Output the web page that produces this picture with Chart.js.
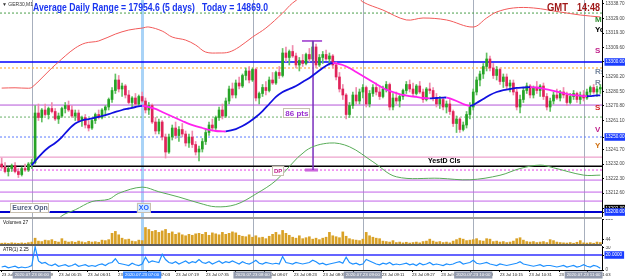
<!DOCTYPE html>
<html>
<head>
<meta charset="utf-8">
<script src="https://cdn.jsdelivr.net/npm/chart.js@4.4.1/dist/chart.umd.min.js"></script>
<style>
  body { margin: 0; background: #fff; }
  #wrap { position: relative; width: 625px; height: 280px; overflow: hidden; }
  canvas { position: absolute; left: 0; }
  .sep { position: absolute; left: 0; width: 602px; }
</style>
</head>
<body>
<div id="wrap">
  <canvas id="priceChart" width="625" height="217" style="top:0"></canvas>
  <div class="sep" style="top:217px;height:2px;background:#9b9b9b"></div>
  <canvas id="volChart" width="625" height="25" style="top:219px"></canvas>
  <div class="sep" style="top:244px;height:2px;background:#5f5f5f"></div>
  <canvas id="atrChart" width="625" height="34" style="top:246px"></canvas>
</div>
<script>
// GER30 M1 candles, one entry per bar
const opens = [
  13232,13230,13227,13229,13231,13227,13225,13229,13228,13232,
  13233,13266,13263,13268,13265,13269,13267,13262,13264,13269,
  13271,13268,13264,13266,13261,13263,13258,13256,13261,13265,
  13263,13268,13270,13275,13281,13288,13282,13284,13278,13273,
  13276,13272,13277,13274,13268,13271,13260,13254,13260,13250,
  13240,13250,13256,13251,13255,13252,13246,13250,13245,13240,
  13242,13247,13253,13258,13256,13263,13268,13264,13274,13282,
  13278,13286,13284,13291,13294,13288,13295,13276,13279,13283,
  13281,13288,13286,13293,13291,13306,13303,13307,13304,13298,
  13301,13299,13305,13302,13310,13298,13303,13305,13302,13304,
  13298,13290,13282,13278,13265,13271,13278,13274,13280,13283,
  13272,13279,13283,13280,13277,13282,13285,13270,13276,13274,
  13277,13281,13285,13282,13279,13284,13280,13275,13282,13281,
  13276,13272,13275,13270,13272,13267,13259,13262,13255,13258,
  13265,13270,13280,13288,13292,13297,13302,13296,13291,13295,
  13287,13290,13284,13286,13280,13270,13275,13281,13284,13278,
  13283,13281,13284,13277,13270,13274,13278,13276,13280,13278,
  13273,13277,13279,13275,13278,13276,13280,13283,13280,13282
];
const highs = [
  13236,13233,13230,13232,13233,13229,13230,13232,13233,13235,
  13271,13272,13269,13272,13270,13273,13269,13266,13270,13273,
  13274,13271,13268,13268,13264,13265,13261,13262,13266,13268,
  13269,13271,13276,13283,13292,13291,13286,13285,13281,13277,
  13279,13278,13280,13276,13273,13272,13263,13262,13261,13252,
  13252,13258,13260,13257,13259,13254,13252,13254,13247,13244,
  13249,13255,13260,13262,13264,13270,13272,13276,13284,13286,
  13288,13290,13292,13296,13297,13296,13296,13280,13285,13287,
  13290,13293,13294,13297,13309,13310,13308,13311,13306,13303,
  13305,13306,13309,13314,13312,13305,13307,13308,13306,13305,
  13300,13293,13285,13279,13273,13280,13283,13282,13285,13284,
  13281,13285,13286,13284,13284,13287,13286,13279,13280,13278,
  13282,13287,13288,13286,13285,13287,13282,13283,13286,13283,
  13279,13277,13276,13274,13275,13268,13264,13263,13260,13267,
  13273,13282,13290,13294,13299,13306,13304,13299,13297,13296,
  13292,13292,13288,13288,13282,13278,13283,13286,13285,13284,
  13287,13285,13286,13279,13276,13280,13282,13281,13283,13280,
  13279,13281,13280,13280,13281,13282,13284,13285,13284,13285
];
const lows = [
  13229,13226,13224,13227,13226,13223,13224,13227,13227,13229,
  13232,13261,13260,13264,13262,13266,13261,13259,13263,13266,
  13267,13263,13261,13260,13257,13256,13254,13255,13259,13262,
  13262,13265,13268,13273,13279,13280,13277,13276,13272,13270,
  13271,13271,13273,13266,13265,13259,13252,13252,13248,13236,
  13239,13248,13249,13247,13250,13244,13243,13243,13238,13234,
  13240,13245,13251,13254,13255,13261,13262,13263,13272,13276,
  13276,13282,13283,13288,13286,13287,13274,13272,13277,13278,
  13280,13285,13285,13289,13290,13300,13298,13303,13296,13294,
  13297,13298,13300,13300,13296,13297,13299,13301,13298,13296,
  13288,13280,13275,13262,13263,13269,13272,13272,13276,13270,
  13270,13277,13278,13275,13276,13280,13268,13268,13272,13270,
  13275,13279,13280,13277,13278,13279,13273,13274,13279,13274,
  13270,13269,13268,13266,13265,13257,13253,13253,13254,13256,
  13262,13268,13278,13284,13289,13294,13294,13289,13288,13285,
  13283,13282,13280,13278,13268,13266,13273,13279,13276,13276,
  13279,13277,13275,13268,13267,13272,13275,13274,13276,13271,
  13272,13275,13273,13272,13274,13275,13278,13279,13277,13279
];
const closes = [
  13230,13227,13229,13231,13227,13225,13229,13228,13232,13233,
  13266,13263,13268,13265,13269,13267,13262,13264,13269,13271,
  13268,13264,13266,13261,13263,13258,13256,13261,13265,13263,
  13268,13270,13275,13281,13288,13282,13284,13278,13273,13276,
  13272,13277,13274,13268,13271,13260,13254,13260,13250,13240,
  13250,13256,13251,13255,13252,13246,13250,13245,13240,13242,
  13247,13253,13258,13256,13263,13268,13264,13274,13282,13278,
  13286,13284,13291,13294,13288,13295,13276,13279,13283,13281,
  13288,13286,13293,13291,13306,13303,13307,13304,13298,13301,
  13299,13305,13302,13310,13298,13303,13305,13302,13304,13298,
  13290,13282,13278,13265,13271,13278,13274,13280,13283,13272,
  13279,13283,13280,13277,13282,13285,13270,13276,13274,13277,
  13281,13285,13282,13279,13284,13280,13275,13282,13281,13276,
  13272,13275,13270,13272,13267,13259,13262,13255,13258,13265,
  13270,13280,13288,13292,13297,13302,13296,13291,13295,13287,
  13290,13284,13286,13280,13270,13275,13281,13284,13278,13283,
  13281,13284,13277,13270,13274,13278,13276,13280,13278,13273,
  13277,13279,13275,13278,13276,13280,13283,13280,13282,13283
];

// moving average (blue when rising, magenta when falling)
const maIdx = [9,10,12,14,16,18,20,22,24,26, 28,30,32,34,36,38,40,42,44,46,
  48,50,52,54,56,58,60,62,64,66, 67,70,72,74,76,78,80,82,84,86,
  88,90,92,94,96,98,99,100,102,104, 106,108,110,112,114,116,118,120,122,124,
  126,128,130,132,133,134,136,138,140,141, 142,144,146,148,150,152,154,156,158,160,
  162,164,166,168,170,172,174,175,176,177, 178,179];
const maVal = [13231,13234,13239,13243,13246,13250,13255,13259,13261,13262,
  13263,13264,13265.3,13266.7,13268,13269,13270,13270.7,13270,13268.7,
  13266.7,13264.7,13262.7,13260.7,13258.7,13257.3,13256,13254.7,13254,13253.8,
  13253.7,13255.3,13257.3,13260,13263.3,13267.3,13272,13276.7,13280,13282,
  13284,13286.7,13289.3,13292.7,13296,13298.7,13299.3,13299,13298,13296,
  13293.3,13290.7,13288,13285.3,13282.7,13280.7,13279.3,13278,13277.3,13276.7,
  13276,13275.7,13276,13276.3,13276.3,13275.7,13274,13272,13270.7,13271.3,
  13272.7,13275.3,13278,13280,13281.3,13282,13282.7,13283,13283.3,13283,
  13282.3,13281.3,13280.3,13279.3,13278.3,13277.7,13277.3,13277.2,13277.3,13277.5,
  13277.7,13277.8];

// upper red band
const redIdx = [0,4,8,9,12,15,17,19,22,25, 29,34,38,42,44,48,51,55,58,61,
  65,68,71,75,79,84,87,92,97,102, 106,108,114,121,126,133,141,145,148,153,
  159,167,173,179];
const redVal = [13282.6,13282.8,13282.5,13283,13289.3,13296,13300,13304,13309.3,13312.6,
  13314,13318.6,13321.3,13322.6,13323.3,13320.6,13316.6,13314.6,13311.3,13306.6,
  13306,13306.6,13310,13316.6,13322.6,13332.6,13339.3,13346.6,13350.6,13349.3,
  13344.6,13340,13334.6,13328,13329.3,13328,13323.3,13329.3,13333.3,13336,
  13336,13333.3,13331.3,13330];

// lower green band
const greenIdx = [15,18,22,27,32,35,42,47,53,59, 64,70,76,82,91,98,104,111,118,131,
  140,149,155,161,165,174,179];
const greenVal = [13190,13197.5,13201.5,13207,13208.5,13212.5,13216.6,13213.5,13210,13206,
  13203.5,13205,13212,13221,13241,13246,13243.5,13233.5,13223.5,13222.5,
  13221.5,13224.5,13229,13231.3,13229.5,13224.6,13224.6];

// horizontal levels drawn on the price panel
const levelPrices = [13332.6, 13300, 13296, 13271.3, 13263.3, 13250, 13236.6,
  13230.6, 13228, 13221.3, 13213.3, 13207.3, 13200];

const volumes = [
  8,10,6,12,9,7,11,8,14,20, 60,30,25,40,35,45,28,20,55,30,
  20,25,18,30,22,15,28,20,24,18, 40,35,45,110,130,95,60,45,50,30,
  25,40,35,170,150,130,140,120,135,150, 110,125,100,115,95,85,100,90,105,110,
  100,120,90,115,105,95,120,100,110,125, 115,90,80,75,95,70,85,65,70,55,
  80,100,120,95,140,110,90,70,60,85, 55,65,75,50,60,45,60,70,120,85,
  75,65,125,80,55,45,40,35,50,120, 85,70,60,55,30,25,20,35,15,20,
  12,18,10,15,20,12,25,30,50,30, 20,25,15,20,12,30,45,60,50,35,
  40,45,55,35,30,55,50,25,30,20, 25,15,20,30,55,65,40,25,20,25,
  15,20,25,15,45,35,20,15,12,10, 15,8,18,35,12,10,14,8,20,15
];

const atrValues = [
  4,5,3,4,5,3,4,3,4,6, 31,12,9,10,7,6,8,5,6,7,
  5,6,8,5,6,7,5,6,5,7, 8,6,9,10,15,9,8,7,6,9,
  7,6,8,17,10,12,11,10,21,14, 10,9,11,8,10,12,9,11,10,14,
  10,9,11,8,10,12,9,11,10,12, 10,8,11,9,8,10,13,9,8,10,
  9,8,9,8,18,10,9,8,10,9, 8,9,10,13,11,8,9,7,8,9,
  10,11,9,17,10,8,9,7,8,14, 12,10,8,7,9,8,10,7,8,7,
  8,9,7,8,6,9,7,8,10,7, 8,7,6,8,7,8,10,11,8,9,
  10,13,9,8,9,10,8,7,6,8, 7,6,7,8,9,11,8,7,6,5,
  6,7,5,6,6,5,4,5,6,4, 5,6,4,5,7,5,4,6,5,2.25
];

// axis labels
const priceTicks = [13338.7,13329.0,13319.3,13309.6,13300.0,13290.2,13280.5,13270.8,
  13261.1,13250.0,13241.7,13232.0,13222.3,13212.6,13202.3,13200.0];
const volTicks = [44, 258];
const atrTicks = [0, 20, 30];
const xTickPos = [0,8.5,17.1,25.8,34.8,43.5,52.1,61.1,69.8,78.7,87.4,96.1,105.1,113.7,122.7,131.4,140.1,149,157.7,166.7,175.3];
const xTickLabels = ['23 Jul 2020','23 Jul 05:59','23 Jul 06:15','23 Jul 06:31','23 Jul 06:47','23 Jul 07:03',
  '23 Jul 07:19','23 Jul 07:35','23 Jul 07:51','23 Jul 08:07','23 Jul 08:23','23 Jul 08:39','23 Jul 08:55',
  '23 Jul 09:11','23 Jul 09:27','23 Jul 09:43','23 Jul 09:59','23 Jul 10:15','23 Jul 10:31','23 Jul 10:47','23 Jul 11:03'];
const sessionIdx = [9, 42, 75, 108, 141, 174];
const sessionLabels = ['2020.07.23 06:00','2020.07.23 07:00','2020.07.23 08:00',
  '2020.07.23 09:00','2020.07.23 10:00','2020.07.23 11:00'];

// ---------- styling ----------
Chart.defaults.font.family = "'Liberation Sans', Arial, sans-serif";
const FONT = "'Liberation Sans', Arial, sans-serif";
const levelStyle = [
  {c:'#4a9f4a', w:1, d:[2,2]}, {c:'#0000ff', w:1.6, d:[]}, {c:'#ffb24a', w:1.2, d:[2,2]},
  {c:'#b455d8', w:1, d:[]}, {c:'#6ab06a', w:1, d:[2,2]}, {c:'#5b7bff', w:1, d:[2,2]},
  {c:'#e88bbf', w:1, d:[]}, {c:'#000000', w:1.5, d:[]}, {c:'#e43fe4', w:1, d:[2,2]},
  {c:'#c262e8', w:1, d:[]}, {c:'#c262e8', w:1, d:[]}, {c:'#c262e8', w:1, d:[]},
  {c:'#0000cd', w:2, d:[]}
];
const priceHighlight = {13300: '#1a3cff', 13250: '#1a3cff', 13200: '#1a3cff', 13202.3: '#000'};

const toPoints = (idx, vals) => idx.map((x, k) => ({x, y: vals[k]}));
const isUp = i => closes[i] >= opens[i];
const xAxis = {type: 'linear', min: -0.5, max: 179.5, offset: false, display: false};

function rightAxis(min, max, tickValues, fmt, highlight) {
  return {
    type: 'linear', position: 'right', min, max,
    afterBuildTicks: s => { s.ticks = tickValues.map(v => ({value: v})); },
    afterFit: s => { s.width = 23; s.paddingTop = 0; s.paddingBottom = 0; },
    border: {display: true, color: '#000', width: 1},
    grid: {drawOnChartArea: false, tickLength: 2, color: '#000'},
    ticks: {
      autoSkip: false, padding: 1.5, font: {size: 4.6},
      callback: fmt,
      color: c => highlight[c.tick.value] ? '#fff' : '#444',
      showLabelBackdrop: c => !!highlight[c.tick.value],
      backdropColor: c => highlight[c.tick.value] || 'rgba(0,0,0,0)',
      backdropPadding: {top: 1, bottom: 1, left: 1, right: 2}
    }
  };
}

function drawSessions(chart) {
  const {ctx, chartArea, scales: {x}} = chart;
  ctx.save();
  sessionIdx.forEach((i, k) => {
    const px = Math.round(x.getPixelForValue(i)) + 0.5;
    ctx.strokeStyle = k === 1 ? '#a9d3f7' : '#a7afbd';
    ctx.lineWidth = k === 1 ? 3 : 1;
    ctx.beginPath();
    ctx.moveTo(px, chartArea.top);
    ctx.lineTo(px, chartArea.bottom);
    ctx.stroke();
  });
  ctx.restore();
}

function fitText(ctx, text, x, y, w) {
  const m = ctx.measureText(text).width;
  ctx.save();
  ctx.translate(x, y);
  ctx.scale(w / m, 1);
  ctx.fillText(text, 0, 0);
  ctx.restore();
}

function boxLabel(ctx, text, x, y, font, color, fill, border) {
  ctx.font = font;
  const w = ctx.measureText(text).width;
  ctx.fillStyle = fill;
  ctx.fillRect(x - 2, y - 5, w + 4, 10);
  ctx.strokeStyle = border;
  ctx.lineWidth = 1;
  ctx.strokeRect(Math.round(x - 2) + 0.5, Math.round(y - 5) + 0.5, Math.round(w + 3), 9);
  ctx.fillStyle = color;
  ctx.textBaseline = 'middle';
  ctx.fillText(text, x, y + 0.5);
}

// text notes on the price panel: [text, bar index, price, color, font, boxed, fill]
const notes = [
  ['86 pts', 84.8, 13266, '#9b30d0', 'bold 8px ' + FONT, true, '#fff'],
  ['DP', 81.4, 13227.3, '#c0208a', 'bold 6px ' + FONT, true, '#fff'],
  ['YestD Cls', 127.5, 13234.3, '#000', 'bold 7px ' + FONT, false],
  ['Eurex Opn', 3.2, 13203, '#4f5d7e', 'bold 7px ' + FONT, true, '#fff'],
  ['XO', 41.0, 13203, '#1f5cff', 'bold 7px ' + FONT, true, '#d5ebff']
];
const sideTags = [['M',13328,'#2e8b2e'],['Yo',13321.3,'#000'],['S',13307.3,'#c0208a'],
  ['Rs',13293.3,'#7a8aa0'],['R',13286,'#7a8aa0'],['S',13269.3,'#d02020'],
  ['V',13254.7,'#c0208a'],['Y',13244,'#d07010']];

const priceDecor = {
  id: 'priceDecor',
  beforeDatasetsDraw: drawSessions,
  afterDatasetsDraw(chart) {
    const {ctx, chartArea, scales: {x, y}} = chart;
    ctx.save();
    ctx.textBaseline = 'alphabetic';
    ctx.fillStyle = '#1a35f0';
    ctx.font = 'bold 10px ' + FONT;
    fitText(ctx, 'Average Daily Range = 17954.6 (5 days)   Today = 14869.0', 33, 11, 235);
    ctx.fillStyle = '#a01818';
    fitText(ctx, 'GMT', 547, 11, 21);
    fitText(ctx, '14:48', 577, 11, 23);
    ctx.fillStyle = '#333';
    ctx.font = '5px ' + FONT;
    ctx.fillText('\u25BC GER30,M1', 2, 6);

    notes.forEach(n => {
      const px = x.getPixelForValue(n[1]), py = y.getPixelForValue(n[2]);
      if (n[5]) {
        boxLabel(ctx, n[0], px, py, n[4], n[3], n[6], '#c8c0b0');
      } else {
        ctx.font = n[4]; ctx.fillStyle = n[3]; ctx.textBaseline = 'middle';
        ctx.fillText(n[0], px, py);
      }
    });

    ctx.beginPath();
    ctx.rect(chartArea.left, chartArea.top, chartArea.right - chartArea.left, chartArea.bottom - chartArea.top);
    ctx.clip();
    ctx.font = 'bold 8px ' + FONT;
    ctx.textBaseline = 'middle';
    sideTags.forEach(t => {
      ctx.fillStyle = t[2];
      ctx.fillText(t[0], 595, y.getPixelForValue(t[1]));
    });
    ctx.restore();
  }
};

const levelSets = levelPrices.map((p, k) => ({
  type: 'line', data: [{x: -0.5, y: p}, {x: 179.5, y: p}],
  borderColor: levelStyle[k].c, borderWidth: levelStyle[k].w, borderDash: levelStyle[k].d,
  pointRadius: 0, order: 5
}));

new Chart(document.getElementById('priceChart'), {
  type: 'bar',
  data: {
    datasets: [
      {type: 'line', data: toPoints(maIdx, maVal), borderColor: '#1010e0', borderWidth: 1.8,
        pointRadius: 0, tension: 0.3, order: 0,
        segment: {borderColor: s => s.p1.parsed.y >= s.p0.parsed.y ? '#1010e0' : '#ff22ee'}},
      {type: 'line', data: toPoints(redIdx, redVal), borderColor: '#f25a5a', borderWidth: 1,
        pointRadius: 0, tension: 0.35, order: 1},
      {type: 'line', data: toPoints(greenIdx, greenVal), borderColor: '#58ac58', borderWidth: 1,
        pointRadius: 0, tension: 0.35, order: 1},
      {type: 'line', data: [{x: 93.1, y: 13314}, {x: 93.1, y: 13228}], borderColor: '#7b2fbe',
        borderWidth: 1.5, pointRadius: 0, order: 1},
      {type: 'line', data: [{x: 89.8, y: 13314}, {x: 95.8, y: 13314}], borderColor: '#9932cc',
        borderWidth: 1.5, pointRadius: 0, order: 1},
      {type: 'line', data: [{x: 90.7, y: 13228}, {x: 94.6, y: 13228}], borderColor: '#cc66dd',
        borderWidth: 3, pointRadius: 0, order: 1},
      {data: closes.map((c, i) => ({x: i, y: [opens[i], c]})), barThickness: 2, grouped: false,
        backgroundColor: c => isUp(c.dataIndex) ? '#26a326' : '#e0245a', order: 2},
      {data: highs.map((h, i) => ({x: i, y: [lows[i], h]})), barThickness: 1, grouped: false,
        backgroundColor: c => isUp(c.dataIndex) ? '#62c062' : '#f08cae', order: 3},
      ...levelSets
    ]
  },
  options: {
    responsive: false, animation: false, events: [],
    layout: {padding: 0},
    plugins: {legend: {display: false}, tooltip: {enabled: false}},
    scales: {
      x: xAxis,
      y: rightAxis(13196.7, 13341.3, priceTicks, v => v.toFixed(2), priceHighlight)
    }
  },
  plugins: [priceDecor]
});

new Chart(document.getElementById('volChart'), {
  type: 'bar',
  data: {
    datasets: [{data: volumes.map((v, i) => ({x: i, y: v})), barThickness: 2,
      backgroundColor: '#d9a126', grouped: false}]
  },
  options: {
    responsive: false, animation: false, events: [],
    layout: {padding: 0},
    plugins: {legend: {display: false}, tooltip: {enabled: false}},
    scales: {x: xAxis, y: rightAxis(0, 258, volTicks, v => String(v), {})}
  },
  plugins: [{
    id: 'volDecor',
    beforeDatasetsDraw: drawSessions,
    afterDatasetsDraw(chart) {
      const {ctx} = chart;
      ctx.save();
      ctx.fillStyle = '#111';
      ctx.font = '4.8px ' + FONT;
      ctx.textBaseline = 'top';
      ctx.fillText('Volumes 27', 3, 1);
      ctx.restore();
    }
  }]
});

new Chart(document.getElementById('atrChart'), {
  type: 'line',
  data: {
    datasets: [
      {data: atrValues.map((v, i) => ({x: i, y: v})), borderColor: '#1e90ff', borderWidth: 1.2,
        pointRadius: 0, tension: 0},
      {data: [{x: -0.5, y: 20}, {x: 179.5, y: 20}], borderColor: '#3030ff', borderWidth: 1.5, pointRadius: 0}
    ]
  },
  options: {
    responsive: false, animation: false, events: [],
    layout: {padding: 0},
    plugins: {legend: {display: false}, tooltip: {enabled: false}},
    scales: {
      x: {
        type: 'linear', min: -0.5, max: 179.5, offset: false, position: 'bottom',
        afterBuildTicks: s => { s.ticks = xTickPos.map(v => ({value: v})); },
        afterFit: s => { s.height = 10; s.paddingLeft = 0; s.paddingRight = 0; },
        border: {display: true, color: '#000'},
        grid: {drawOnChartArea: false, tickLength: 2, color: '#000'},
        ticks: {autoSkip: false, maxRotation: 0, align: 'start', padding: 0.5,
          font: {size: 4.2}, color: '#222', callback: (v, k) => xTickLabels[k]}
      },
      y: rightAxis(0, 32, atrTicks, v => v === 20 ? '20.0000' : String(v), {20: '#1a3cff'})
    }
  },
  plugins: [{
    id: 'atrDecor',
    beforeDatasetsDraw: drawSessions,
    afterDraw(chart) {
      const {ctx, chartArea, scales: {x}} = chart;
      ctx.save();
      ctx.fillStyle = '#111';
      ctx.font = '4.8px ' + FONT;
      ctx.textBaseline = 'top';
      ctx.fillText('ATR(1) 2.25', 3, 1);
      ctx.font = '4.4px ' + FONT;
      ctx.textBaseline = 'middle';
      sessionIdx.forEach((i, k) => {
        const px = x.getPixelForValue(i);
        const w = ctx.measureText(sessionLabels[k]).width + 4;
        ctx.fillStyle = k === 1 ? '#3d8bff' : '#939bae';
        ctx.fillRect(px - w / 2, chartArea.bottom + 1.5, w, 7);
        ctx.fillStyle = '#fff';
        ctx.fillText(sessionLabels[k], px - w / 2 + 2, chartArea.bottom + 5);
      });
      ctx.restore();
    }
  }]
});
</script>
</body>
</html>
